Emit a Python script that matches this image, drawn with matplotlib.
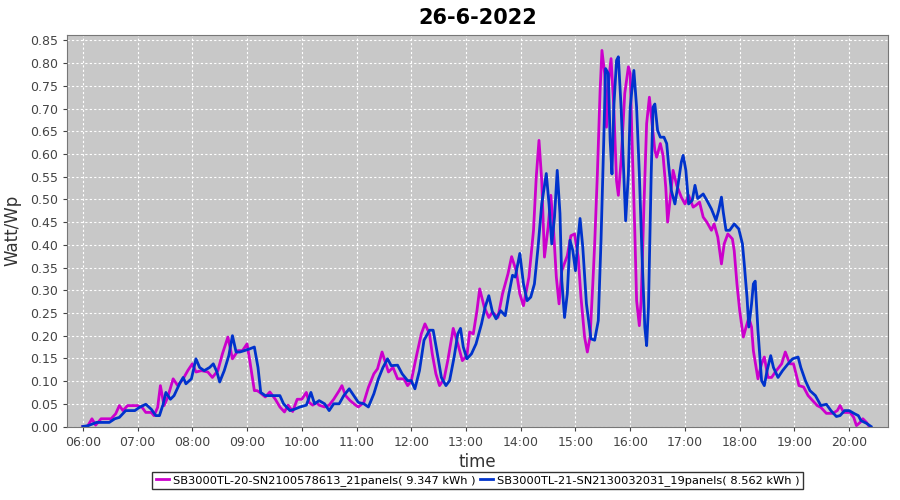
import numpy as np
import matplotlib
matplotlib.use("Agg")
import matplotlib.pyplot as plt

title = "26-6-2022"
label_a = "SB3000TL-20-SN2100578613_21panels( 9.347 kWh )"
label_b = "SB3000TL-21-SN2130032031_19panels( 8.562 kWh )"

# SB3000TL-20 (magenta)
time_a = ["06:00", "06:05", "06:10", "06:14", "06:20", "06:31", "06:36", "06:40", "06:44", "06:49",
          "07:00", "07:05", "07:09", "07:15", "07:18", "07:22", "07:25", "07:29", "07:33", "07:39",
          "07:44", "07:50", "07:55", "08:00", "08:04", "08:10", "08:17", "08:22", "08:28", "08:33",
          "08:39", "08:44", "08:50", "08:55", "09:00", "09:03", "09:08", "09:11", "09:14", "09:20",
          "09:25", "09:31", "09:36", "09:41", "09:45", "09:50", "09:55", "10:00", "10:05", "10:08",
          "10:12", "10:16", "10:19", "10:25", "10:30", "10:35", "10:41", "10:44", "10:48", "10:53",
          "10:59", "11:02", "11:08", "11:13", "11:19", "11:23", "11:28", "11:35", "11:40", "11:45",
          "11:52", "11:56", "12:00", "12:05", "12:11", "12:15", "12:20", "12:23", "12:27", "12:31",
          "12:36", "12:40", "12:46", "12:51", "12:56", "13:01", "13:04", "13:08", "13:12", "13:15",
          "13:20", "13:25", "13:29", "13:35", "13:40", "13:46", "13:50", "13:55", "13:59", "14:03",
          "14:09", "14:14", "14:17", "14:20", "14:23", "14:26", "14:30", "14:33", "14:36", "14:39",
          "14:42", "14:45", "14:51", "14:55", "14:59", "15:03", "15:06", "15:10", "15:13", "15:16",
          "15:19", "15:21", "15:24", "15:27", "15:29", "15:32", "15:34", "15:36", "15:39", "15:42",
          "15:45", "15:47", "15:50", "15:54", "15:58", "16:00", "16:02", "16:05", "16:07", "16:10",
          "16:12", "16:15", "16:18", "16:21", "16:24", "16:27", "16:29", "16:33", "16:36", "16:39",
          "16:41", "16:44", "16:47", "16:51", "16:56", "17:00", "17:04", "17:09", "17:12", "17:16",
          "17:20", "17:24", "17:29", "17:32", "17:36", "17:40", "17:43", "17:47", "17:52", "17:54",
          "17:57", "18:00", "18:04", "18:07", "18:10", "18:13", "18:15", "18:20", "18:24", "18:27",
          "18:31", "18:35", "18:39", "18:46", "18:50", "18:55", "18:59", "19:05", "19:10", "19:15",
          "19:20", "19:25", "19:29", "19:35", "19:42", "19:47", "19:50", "19:54", "20:01", "20:05",
          "20:08", "20:12", "20:15", "20:19", "20:22"]
watt_a = [0.000, 0.000, 0.017, 0.003, 0.017, 0.017, 0.028, 0.046, 0.035, 0.046,
          0.046, 0.042, 0.031, 0.031, 0.024, 0.042, 0.090, 0.046, 0.064, 0.105,
          0.090, 0.105, 0.123, 0.138, 0.120, 0.123, 0.120, 0.108, 0.123, 0.160,
          0.197, 0.149, 0.167, 0.167, 0.182, 0.145, 0.079, 0.079, 0.075, 0.065,
          0.076, 0.060, 0.043, 0.032, 0.047, 0.033, 0.060, 0.060, 0.075, 0.053,
          0.047, 0.053, 0.047, 0.043, 0.047, 0.060, 0.079, 0.090, 0.068, 0.057,
          0.047, 0.043, 0.053, 0.086, 0.116, 0.127, 0.164, 0.120, 0.130, 0.105,
          0.105, 0.090, 0.100, 0.149, 0.204, 0.226, 0.204, 0.160, 0.116, 0.090,
          0.105, 0.145, 0.216, 0.182, 0.145, 0.156, 0.208, 0.204, 0.255, 0.303,
          0.263, 0.240, 0.252, 0.240, 0.292, 0.336, 0.374, 0.343, 0.292, 0.266,
          0.329, 0.432, 0.549, 0.630, 0.542, 0.373, 0.439, 0.509, 0.432, 0.329,
          0.270, 0.343, 0.376, 0.420, 0.424, 0.373, 0.285, 0.197, 0.164, 0.197,
          0.314, 0.400, 0.556, 0.740, 0.828, 0.777, 0.659, 0.755, 0.810, 0.703,
          0.541, 0.509, 0.586, 0.733, 0.792, 0.777, 0.630, 0.432, 0.277, 0.222,
          0.277, 0.483, 0.667, 0.725, 0.667, 0.608, 0.593, 0.623, 0.597, 0.526,
          0.450, 0.505, 0.564, 0.531, 0.505, 0.490, 0.509, 0.483, 0.487, 0.494,
          0.461, 0.450, 0.432, 0.446, 0.417, 0.358, 0.402, 0.424, 0.413, 0.387,
          0.314, 0.255, 0.197, 0.219, 0.240, 0.219, 0.167, 0.105, 0.138, 0.153,
          0.108, 0.108, 0.120, 0.138, 0.164, 0.138, 0.138, 0.090, 0.087, 0.068,
          0.057, 0.046, 0.042, 0.029, 0.029, 0.035, 0.046, 0.031, 0.031, 0.020,
          0.002, 0.009, 0.017, 0.009, 0.000]

# SB3000TL-21 (blue)
time_b = ["06:00", "06:06", "06:15", "06:29", "06:35", "06:40", "06:47", "06:57", "07:02", "07:09",
          "07:15", "07:20", "07:24", "07:28", "07:31", "07:36", "07:40", "07:46", "07:50", "07:53",
          "07:59", "08:04", "08:08", "08:13", "08:19", "08:23", "08:27", "08:30", "08:35", "08:40",
          "08:44", "08:48", "08:52", "08:57", "09:03", "09:08", "09:12", "09:15", "09:20", "09:25",
          "09:36", "09:40", "09:47", "09:52", "09:58", "10:05", "10:10", "10:14", "10:19", "10:25",
          "10:30", "10:35", "10:41", "10:46", "10:52", "10:57", "11:02", "11:08", "11:13", "11:19",
          "11:24", "11:29", "11:34", "11:38", "11:45", "11:50", "11:56", "12:00", "12:04", "12:09",
          "12:14", "12:20", "12:24", "12:28", "12:33", "12:38", "12:42", "12:47", "12:51", "12:54",
          "12:57", "13:01", "13:06", "13:11", "13:17", "13:21", "13:25", "13:29", "13:33", "13:38",
          "13:43", "13:47", "13:51", "13:54", "13:59", "14:03", "14:07", "14:11", "14:15", "14:19",
          "14:23", "14:28", "14:31", "14:34", "14:37", "14:40", "14:43", "14:45", "14:48", "14:51",
          "14:54", "14:57", "15:00", "15:03", "15:05", "15:08", "15:12", "15:17", "15:21", "15:25",
          "15:28", "15:31", "15:33", "15:36", "15:38", "15:40", "15:42", "15:45", "15:47", "15:50",
          "15:53", "15:55", "15:58", "16:00", "16:04", "16:07", "16:10", "16:13", "16:16", "16:18",
          "16:20", "16:23", "16:25", "16:27", "16:30", "16:33", "16:37", "16:40", "16:42", "16:45",
          "16:49", "16:52", "16:56", "16:58", "17:01", "17:04", "17:08", "17:11", "17:14", "17:20",
          "17:24", "17:29", "17:34", "17:37", "17:40", "17:42", "17:45", "17:49", "17:54", "17:59",
          "18:03", "18:05", "18:08", "18:10", "18:13", "18:15", "18:17", "18:20", "18:24", "18:27",
          "18:30", "18:34", "18:37", "18:42", "18:47", "18:53", "18:58", "19:04", "19:07", "19:12",
          "19:17", "19:23", "19:29", "19:35", "19:40", "19:46", "19:50", "19:55", "20:00", "20:06",
          "20:10", "20:13", "20:19", "20:24"]
watt_b = [0.000, 0.002, 0.009, 0.009, 0.017, 0.020, 0.035, 0.035, 0.042, 0.049,
          0.038, 0.024, 0.024, 0.049, 0.075, 0.060, 0.068, 0.094, 0.108, 0.094,
          0.105, 0.149, 0.130, 0.123, 0.130, 0.138, 0.120, 0.098, 0.123, 0.156,
          0.200, 0.164, 0.164, 0.167, 0.171, 0.175, 0.130, 0.075, 0.068, 0.068,
          0.068, 0.050, 0.035, 0.038, 0.043, 0.047, 0.075, 0.050, 0.057, 0.050,
          0.035, 0.050, 0.050, 0.068, 0.083, 0.068, 0.053, 0.050, 0.043, 0.072,
          0.105, 0.130, 0.149, 0.134, 0.135, 0.116, 0.101, 0.101, 0.083, 0.123,
          0.190, 0.212, 0.212, 0.167, 0.108, 0.090, 0.101, 0.153, 0.204, 0.216,
          0.175, 0.149, 0.160, 0.182, 0.226, 0.263, 0.288, 0.252, 0.237, 0.255,
          0.244, 0.292, 0.333, 0.329, 0.381, 0.314, 0.277, 0.285, 0.314, 0.395,
          0.490, 0.557, 0.490, 0.402, 0.461, 0.564, 0.469, 0.321, 0.240, 0.292,
          0.410, 0.388, 0.343, 0.417, 0.458, 0.395, 0.270, 0.193, 0.190, 0.233,
          0.410, 0.630, 0.788, 0.777, 0.630, 0.556, 0.703, 0.806, 0.814, 0.703,
          0.556, 0.453, 0.556, 0.703, 0.784, 0.703, 0.556, 0.373, 0.219, 0.178,
          0.263, 0.556, 0.703, 0.710, 0.652, 0.637, 0.637, 0.623, 0.578, 0.520,
          0.490, 0.527, 0.582, 0.597, 0.564, 0.490, 0.498, 0.531, 0.502, 0.512,
          0.498, 0.479, 0.454, 0.476, 0.505, 0.472, 0.432, 0.432, 0.446, 0.435,
          0.402, 0.358, 0.285, 0.219, 0.270, 0.314, 0.320, 0.212, 0.101, 0.090,
          0.123, 0.156, 0.130, 0.108, 0.123, 0.138, 0.149, 0.153, 0.130, 0.101,
          0.079, 0.068, 0.046, 0.049, 0.035, 0.022, 0.024, 0.035, 0.035, 0.028,
          0.024, 0.013, 0.007, 0.000]

hour_ticks = list(range(6, 21))


def to_hours(times):
    return np.array([int(t[:2]) + int(t[3:]) / 60 for t in times])


fig = plt.figure(figsize=(9, 5), dpi=100)
ax = fig.add_axes([0.0744, 0.147, 0.9123, 0.783])
ax.set_facecolor("#c8c8c8")

ax.plot(to_hours(time_a), watt_a, color="#cc00cc", lw=2, label=label_a)
ax.plot(to_hours(time_b), watt_b, color="#0033cc", lw=2, label=label_b)

ax.set_xlim(5.71, 20.71)
ax.set_ylim(0, 0.862)
ax.set_xticks(hour_ticks)
ax.set_xticklabels(["%02d:00" % h for h in hour_ticks])
ax.set_yticks(np.arange(0, 0.851, 0.05))
ax.set_yticklabels(["%.2f" % v for v in np.arange(0, 0.851, 0.05)])
ax.grid(True, color="white", ls=(0, (2, 2)), lw=0.8)
ax.tick_params(labelsize=9, colors="#444444", length=3)
for s in ax.spines.values():
    s.set_color("#777777")

ax.set_xlabel("time", fontsize=12, color="#333333", labelpad=3)
ax.set_ylabel("Watt/Wp", fontsize=12, color="#333333", labelpad=6)
ax.set_title(title, fontsize=15, fontweight="bold", pad=8)

leg = ax.legend(loc="upper center", bbox_to_anchor=(0.5, -0.115), ncol=2, fontsize=8.2,
                frameon=True, fancybox=False, handlelength=1.2, handletextpad=0.3,
                columnspacing=0.4, borderpad=0.3, borderaxespad=0)
leg.get_frame().set_edgecolor("black")
leg.get_frame().set_linewidth(1)

fig.savefig("out.png", dpi=100)
